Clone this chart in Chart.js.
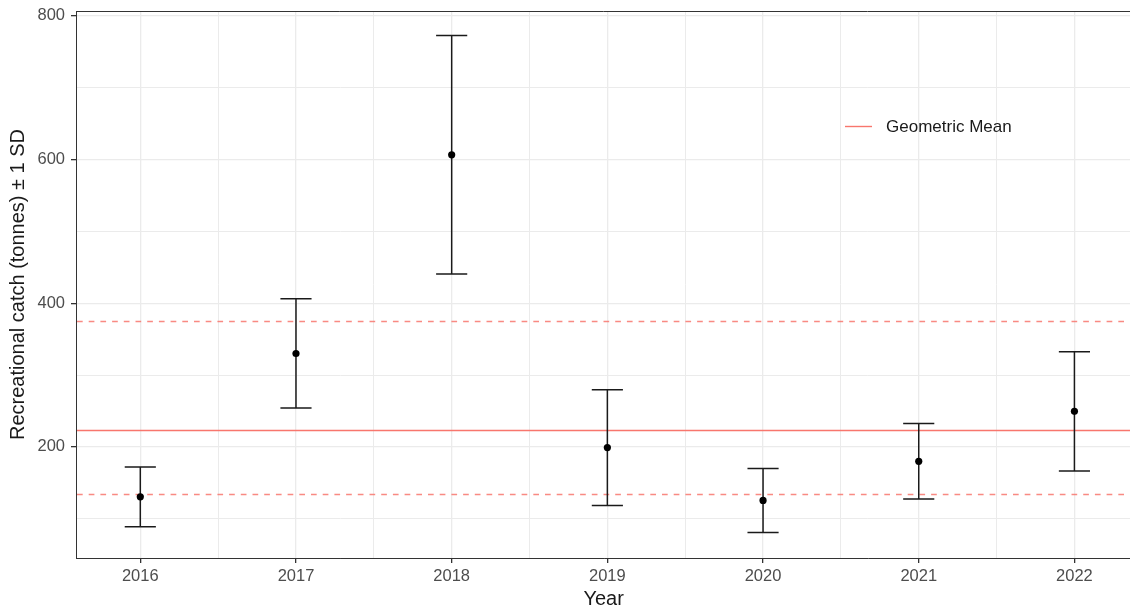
<!DOCTYPE html>
<html>
<head>
<meta charset="utf-8">
<script src="https://cdn.jsdelivr.net/npm/chart.js@4/dist/chart.umd.min.js"></script>
<style>
  html, body { margin: 0; padding: 0; background: #fff; overflow: hidden; }
  #wrap { width: 1130px; height: 611px; position: relative; overflow: hidden; }
</style>
</head>
<body>
<div id="wrap"><canvas id="c" width="1135" height="611"></canvas></div>
<script>
// Annual recreational catch estimates with ±1 SD
const years = [2016, 2017, 2018, 2019, 2020, 2021, 2022];
const catchMean = [130.6, 330, 606.5, 199, 125.5, 180, 249.5];
const catchSD = [41.6, 76, 166, 80.5, 44.5, 52.5, 83];

// Geometric mean of the series and its band
const geoMean = 224;
const geoLower = 134.8;
const geoUpper = 375.7;

const yMajorTicks = [200, 400, 600, 800];
const yMinorTicks = [100, 300, 500, 700];
const legendLabel = 'Geometric Mean';

const FONT = '"Liberation Sans", Arial, sans-serif';
const RED = '#F8766D';
const GRID = '#EBEBEB';
const AXIS = '#333333';

const xTickValues = [];
years.forEach((y, i) => {
  xTickValues.push(y);
  if (i < years.length - 1) xTickValues.push(y + 0.5);
});
const yTickValues = [...yMajorTicks, ...yMinorTicks].sort((a, b) => a - b);

const errorBars = {
  id: 'errorBars',
  beforeDatasetsDraw(chart) {
    const { ctx, chartArea: a, scales: { x, y } } = chart;
    ctx.save();
    ctx.beginPath();
    ctx.rect(a.left, a.top, a.right - a.left, a.bottom - a.top);
    ctx.clip();

    // geometric mean reference lines
    const hline = (v, dash, alpha) => {
      const py = Math.round(y.getPixelForValue(v)) + 0.5;
      ctx.beginPath();
      ctx.setLineDash(dash);
      ctx.strokeStyle = RED;
      ctx.globalAlpha = alpha;
      ctx.lineWidth = 1.4;
      ctx.moveTo(a.left + 1, py);
      ctx.lineTo(a.right, py);
      ctx.stroke();
    };
    hline(geoMean, [], 1);
    hline(geoUpper, [5.7, 6], 0.85);
    hline(geoLower, [5.7, 6], 0.85);
    ctx.setLineDash([]);
    ctx.globalAlpha = 1;

    // error bars
    ctx.strokeStyle = '#1a1a1a';
    ctx.lineWidth = 1.5;
    years.forEach((yr, i) => {
      const px = x.getPixelForValue(yr);
      const lo = y.getPixelForValue(catchMean[i] - catchSD[i]);
      const hi = y.getPixelForValue(catchMean[i] + catchSD[i]);
      const half = x.getPixelForValue(yr + 0.1) - px;
      ctx.beginPath();
      ctx.moveTo(px, lo); ctx.lineTo(px, hi);
      ctx.moveTo(px - half, lo); ctx.lineTo(px + half, lo);
      ctx.moveTo(px - half, hi); ctx.lineTo(px + half, hi);
      ctx.stroke();
    });
    ctx.restore();
  },
  afterDraw(chart) {
    const { ctx, chartArea: a } = chart;
    ctx.save();
    // top panel border
    ctx.strokeStyle = AXIS;
    ctx.lineWidth = 1;
    ctx.beginPath();
    ctx.moveTo(a.left, a.top + 0.5);
    ctx.lineTo(a.right, a.top + 0.5);
    ctx.stroke();

    // legend key
    ctx.strokeStyle = RED;
    ctx.lineWidth = 1.4;
    ctx.beginPath();
    ctx.moveTo(845, 126.5);
    ctx.lineTo(872, 126.5);
    ctx.stroke();
    ctx.fillStyle = '#1a1a1a';
    ctx.font = '17px ' + FONT;
    ctx.textBaseline = 'middle';
    ctx.fillText(legendLabel, 886, 127.5);
    ctx.restore();
  }
};

new Chart(document.getElementById('c'), {
  type: 'scatter',
  data: {
    datasets: [{
      data: years.map((yr, i) => ({ x: yr, y: catchMean[i] })),
      pointRadius: 3.6,
      pointHoverRadius: 3.6,
      pointBackgroundColor: '#000',
      pointBorderColor: '#000',
      pointBorderWidth: 0
    }]
  },
  options: {
    responsive: false,
    animation: false,
    events: [],
    layout: { padding: { top: 11, right: 0, left: 0, bottom: 0 } },
    plugins: { legend: { display: false }, tooltip: { enabled: false } },
    scales: {
      x: {
        type: 'linear',
        min: 2015.587,
        max: 2022.366,
        afterBuildTicks: s => { s.ticks = xTickValues.map(v => ({ value: v })); },
        afterFit: s => { s.height = 53; s.paddingLeft = 0; s.paddingRight = 0; },
        ticks: {
          autoSkip: false,
          maxRotation: 0,
          color: '#4D4D4D',
          font: { family: FONT, size: 16.5 },
          padding: 4,
          callback: v => (Number.isInteger(v) ? String(v) : '')
        },
        grid: {
          color: GRID,
          lineWidth: ctx => (ctx.tick && Number.isInteger(ctx.tick.value) ? 1.3 : 1),
          tickColor: ctx => (ctx.tick && Number.isInteger(ctx.tick.value) ? AXIS : 'rgba(0,0,0,0)'),
          tickLength: 5,
          drawTicks: true
        },
        border: { display: true, color: AXIS, width: 1 },
        title: {
          display: true,
          text: 'Year',
          color: '#1a1a1a',
          font: { family: FONT, size: 20 },
          padding: { top: 0, bottom: 0 }
        }
      },
      y: {
        min: 45.4,
        max: 806.6,
        afterBuildTicks: s => { s.ticks = yTickValues.map(v => ({ value: v })); },
        afterFit: s => { s.width = 76; s.paddingTop = 0; s.paddingBottom = 0; },
        ticks: {
          autoSkip: false,
          color: '#4D4D4D',
          font: { family: FONT, size: 16.5 },
          padding: 6,
          callback: v => (yMajorTicks.includes(v) ? String(v) : '')
        },
        grid: {
          color: GRID,
          lineWidth: ctx => (ctx.tick && yMajorTicks.includes(ctx.tick.value) ? 1.3 : 1),
          tickColor: ctx => (ctx.tick && yMajorTicks.includes(ctx.tick.value) ? AXIS : 'rgba(0,0,0,0)'),
          tickLength: 5
        },
        border: { display: true, color: AXIS, width: 1 },
        title: {
          display: true,
          text: 'Recreational catch (tonnes) \u00b1 1 SD',
          color: '#1a1a1a',
          font: { family: FONT, size: 20 },
          padding: { top: 6, bottom: 0 }
        }
      }
    }
  },
  plugins: [errorBars]
});
</script>
</body>
</html>
